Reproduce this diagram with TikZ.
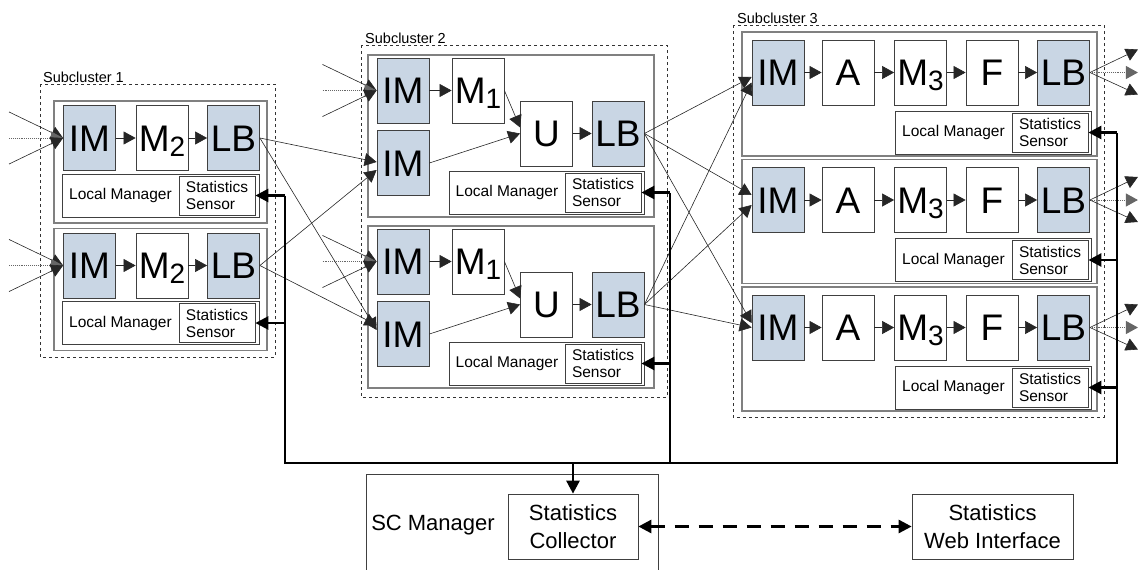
\documentclass[tikz,border=0pt]{standalone}
\usepackage{fontspec}
\setmainfont{Liberation Sans}
\usetikzlibrary{arrows.meta,calc}
\definecolor{imblue}{HTML}{C9D6E4}
\newcommand\FontBig{\fontsize{37}{40}\selectfont}
\newcommand\FontLM{\fontsize{15.5}{17}\selectfont}
\newcommand\FontGrp{\fontsize{14.5}{16}\selectfont}
\newcommand\FontSC{\fontsize{22}{28}\selectfont}
\newcommand\SubIdx[1]{\smash{\raisebox{-5pt}{\fontsize{28}{28}\selectfont #1}}}
\begin{document}
\begin{tikzpicture}[x=1pt,y=-1pt,
  blk/.style={rectangle, draw=black!75, line width=0.8pt, fill=white, minimum width=52pt, minimum height=65pt, inner sep=0pt, font=\FontBig, text height=26.5pt, text depth=0pt},
  blu/.style={blk, fill=imblue},
  lmbox/.style={rectangle, draw=black!75, line width=0.8pt, fill=white, minimum width=196pt, minimum height=43pt, inner sep=0pt},
  ssbox/.style={rectangle, draw=black!75, line width=0.8pt, fill=white, minimum width=76pt, minimum height=39pt, inner sep=0pt, font=\FontLM, align=left},
  lmtext/.style={font=\FontLM, inner sep=0pt},
  rowbox/.style={draw=gray, line width=1.2pt, fill=white},
  grp/.style={draw=black!80, dashed, line width=0.6pt},
  grplbl/.style={font=\FontGrp, anchor=south west, inner sep=1pt},
  conn/.style={draw=black!85, line width=0.6pt, -{Triangle[length=12pt,width=13pt]}},
  dotconn/.style={draw=black!60, densely dotted, line width=0.9pt, -{Triangle[length=12pt,width=13pt]}},
  bus/.style={draw=black, line width=2.7pt, line join=miter},
  busarrow/.style={draw=black, line width=2.7pt, -{Triangle[length=13pt,width=13pt]}},
  bigbox/.style={rectangle, draw=black!75, line width=0.7pt, fill=white, minimum height=65pt, inner sep=0pt, font=\FontSC, align=center},
  dashconn/.style={draw=black, line width=2.7pt, dash pattern=on 14pt off 10pt, {Triangle[length=13pt,width=13pt]}-{Triangle[length=13pt,width=13pt]}}
]
\useasboundingbox (0,0) rectangle (1140,570);

% ---------- group frames ----------
\draw[grp] (40,84) rectangle (275,357);
\node[grplbl] (lbl1) at (42,84) {Subcluster 1};
\draw[grp] (361,45) rectangle (667,397);
\node[grplbl] (lbl2) at (364,45) {Subcluster 2};
\draw[grp] (733,25) rectangle (1104,417);
\node[grplbl] (lbl3) at (736,25) {Subcluster 3};

% ---------- Subcluster 1 ----------
\foreach \r/\y in {1/138,2/265.5}{
  \draw[rowbox] (54,{\y-37}) rectangle (267,{\y+85});
  \node[blu] (s1im\r) at (89.5,\y) {IM};
  \node[blk] (s1m\r) at (162,\y) {M\SubIdx{2}};
  \node[blu] (s1lb\r) at (233.5,\y) {LB};
  \node[lmbox, minimum width=197pt] (s1lm\r) at (160.5,{\y+57.5}) {};
  \node[ssbox] (s1ss\r) at (217,{\y+57.5}) {Statistics\\Sensor};
  \node[lmtext] (s1lt\r) at (120.5,{\y+57.5}) {Local Manager};
  \draw[conn] (s1im\r) -- (s1m\r);
  \draw[conn] (s1m\r) -- (s1lb\r);
}

% ---------- Subcluster 2 ----------
\foreach \r/\d in {1/0,2/171}{
  \draw[rowbox] (368,{55+\d}) rectangle (654,{217+\d});
  \node[blu] (s2ima\r) at (403,{90.5+\d}) {IM};
  \node[blk] (s2m\r) at (478,{90.5+\d}) {M\SubIdx{1}};
  \node[blu] (s2imb\r) at (403,{163+\d}) {IM};
  \node[blk] (s2u\r) at (546.5,{133.5+\d}) {U};
  \node[blu] (s2lb\r) at (618,{133.5+\d}) {LB};
  \node[lmbox, minimum width=195pt] (s2lm\r) at (546.5,{192.5+\d}) {};
  \node[ssbox] (s2ss\r) at (603,{192.5+\d}) {Statistics\\Sensor};
  \node[lmtext] (s2lt\r) at (507,{192.5+\d}) {Local Manager};
  \draw[conn] (s2ima\r) -- (s2m\r);
  \draw[conn] (s2m\r.east) -- ([yshift=6pt]s2u\r.west);
  \draw[conn] (s2imb\r.east) -- (s2u\r.west);
  \draw[conn] (s2u\r) -- (s2lb\r);
}

% ---------- Subcluster 3 ----------
\foreach \r/\d in {1/0,2/127.5,3/255}{
  \draw[rowbox] (742,{32+\d}) rectangle (1097,{156+\d});
  \node[blu] (s3im\r) at (778,{72.5+\d}) {IM};
  \node[blk] (s3a\r) at (848,{72.5+\d}) {A};
  \node[blk] (s3m\r) at (920.5,{72.5+\d}) {M\SubIdx{3}};
  \node[blk] (s3f\r) at (992,{72.5+\d}) {F};
  \node[blu] (s3lb\r) at (1063.5,{72.5+\d}) {LB};
  \node[lmbox] (s3lm\r) at (993,{132.5+\d}) {};
  \node[ssbox] (s3ss\r) at (1050,{132.5+\d}) {Statistics\\Sensor};
  \node[lmtext] (s3lt\r) at (953.5,{132.5+\d}) {Local Manager};
  \draw[conn] (s3im\r) -- (s3a\r);
  \draw[conn] (s3a\r) -- (s3m\r);
  \draw[conn] (s3m\r) -- (s3f\r);
  \draw[conn] (s3f\r) -- (s3lb\r);
  \coordinate (s3oa\r) at ($(s3lb\r.east)+(48,-23)$);
  \coordinate (s3ob\r) at ($(s3lb\r.east)+(48,0)$);
  \coordinate (s3oc\r) at ($(s3lb\r.east)+(48,22)$);
  \draw[conn] (s3lb\r.east) -- (s3oa\r);
  \draw[dotconn] (s3lb\r.east) -- (s3ob\r);
  \draw[conn] (s3lb\r.east) -- (s3oc\r);
}

% ---------- external inputs ----------
\foreach \n in {s1im1,s1im2,s2ima1,s2ima2}{
  \coordinate (\n-ia) at ($(\n.west)+(-54,-26)$);
  \coordinate (\n-ib) at ($(\n.west)+(-54,0)$);
  \coordinate (\n-ic) at ($(\n.west)+(-54,26)$);
  \draw[conn] (\n-ia) -- (\n.west);
  \draw[dotconn] (\n-ib) -- (\n.west);
  \draw[conn] (\n-ic) -- (\n.west);
}

% ---------- Subcluster 1 -> Subcluster 2 ----------
\draw[conn] (s1lb1.east) -- ([yshift=1pt]s2imb1.west);
\draw[conn] (s1lb2.east) -- ([yshift=-7pt]s2imb1.west);
\draw[conn] (s1lb1.east) -- ([yshift=4pt]s2imb2.west);
\draw[conn] (s1lb2.east) -- ([yshift=9pt]s2imb2.west);

% ---------- Subcluster 2 -> Subcluster 3 ----------
\draw[conn] (s2lb1.east) -- ([yshift=-4.5pt]s3im1.west);
\draw[conn] (s2lb2.east) -- ([yshift=-10pt]s3im1.west);
\draw[conn] (s2lb1.east) -- ([yshift=5pt]s3im2.west);
\draw[conn] (s2lb2.east) -- ([yshift=-5pt]s3im2.west);
\draw[conn] (s2lb1.east) -- ([yshift=4.5pt]s3im3.west);
\draw[conn] (s2lb2.east) -- (s3im3.west);

% ---------- SC Manager ----------
\draw[black!75, line width=0.7pt] (366,575) -- (366,474) -- (658,474) -- (658,575);
\node[font=\FontSC, inner sep=0pt] (scm) at (433,525) {SC Manager};
\node[bigbox, minimum width=130pt] (coll) at (573,526.5) {Statistics\\Collector};
\node[bigbox, minimum width=161pt] (web) at (992.5,526.5) {Statistics\\Web Interface};

% ---------- statistics bus ----------
\coordinate (j1) at (285,463);
\coordinate (j2) at (670,463);
\coordinate (j3) at (1117,463);
\draw[bus] (s1ss1.east -| j1) -- (j1) -- (j3) -- (s3ss1.east -| j3);
\draw[bus] (s2ss1.east -| j2) -- (j2);
\foreach \r in {1,2}{
  \draw[busarrow] (s1ss\r.east -| j1) -- (s1ss\r.east);
  \draw[busarrow] (s2ss\r.east -| j2) -- (s2ss\r.east);
}
\foreach \r in {1,2,3}{
  \draw[busarrow] (s3ss\r.east -| j3) -- (s3ss\r.east);
}
\draw[busarrow] (coll.north |- j1) -- (coll.north);
\draw[dashconn] (coll.east) -- (web.west);
\end{tikzpicture}
\end{document}
